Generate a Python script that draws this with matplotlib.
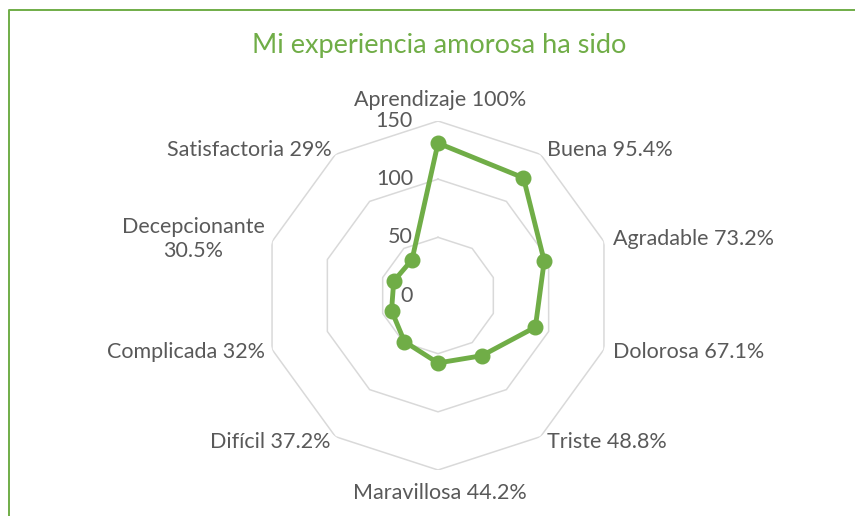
import numpy as np
import matplotlib
matplotlib.use("Agg")
import matplotlib.pyplot as plt
from matplotlib.lines import Line2D

# ---- data ----
categories = ["Aprendizaje 100%", "Buena 95.4%", "Agradable 73.2%", "Dolorosa 67.1%",
              "Triste 48.8%", "Maravillosa 44.2%", "Difícil 37.2%", "Complicada 32%",
              "Decepcionante\n30.5%", "Satisfactoria 29%"]
values = [131, 125, 96, 88, 64, 58, 49, 42, 40, 38]
rticks = [0, 50, 100, 150]
title = "Mi experiencia amorosa ha sido"

GREEN = "#70AD47"
GRAY_TXT = "#595959"
GRID = "#D9D9D9"
FONT = "Lato"
FS = 15.5

W, H, DPI = 855, 516, 100
fig = plt.figure(figsize=(W / DPI, H / DPI), dpi=DPI)

cx, cy, R = 438, 295.5, 174.5  # pixel geometry
ax = fig.add_axes([(cx - R) / W, (H - cy - R) / H, 2 * R / W, 2 * R / H], polar=True)
ax.set_theta_offset(np.pi / 2)
ax.set_theta_direction(-1)
ax.set_ylim(0, rticks[-1])
ax.grid(False)
ax.spines["polar"].set_visible(False)
ax.set_xticks([])
ax.set_yticks([])
ax.patch.set_alpha(0)

n = len(categories)
theta = np.arange(n) * 2 * np.pi / n
theta_c = np.append(theta, theta[0])

# polygon grid
for r in rticks[1:]:
    ax.plot(theta_c, [r] * (n + 1), color=GRID, lw=1.1, zorder=1)

# data
vals_c = values + values[:1]
ax.plot(theta_c, vals_c, color=GREEN, lw=3.5, zorder=3, solid_joinstyle="round")
ax.plot(theta, values, "o", color=GREEN, ms=10.5, zorder=4)

px = 72 / DPI
# label offsets (pixels): dx, dy(up), ha
offs = [(2, 21, "center"), (6, 4, "left"), (8.7, 2.5, "left"), (8.7, -2.3, "left"),
        (6, -5.5, "left"), (1.5, -23, "center"), (-5.4, -5.5, "right"), (-7, -2.3, "right"),
        (-7, 2.6, "right"), (-3.7, 4, "right")]
for t, lab, (dx, dy, ha) in zip(theta, categories, offs):
    ax.annotate(lab, xy=(t, rticks[-1]), xytext=(dx * px, dy * px), textcoords="offset points",
                ha=ha, va="center", multialignment="center", color=GRAY_TXT,
                fontsize=FS, family=FONT, linespacing=1.3, annotation_clip=False)

for r in rticks:
    ax.annotate(str(r), xy=(0, r), xytext=(-25 * px, 0), textcoords="offset points",
                ha="right", va="center", color=GRAY_TXT, fontsize=FS, family=FONT,
                annotation_clip=False)

fig.text(439.5 / W, 1 - 45 / H, title, ha="center", va="center", color=GREEN,
         fontsize=19.5, family=FONT)

# border (left and top)
fig.add_artist(Line2D([8.5 / W, 8.5 / W, 1.0], [0.0, 1 - 9.7 / H, 1 - 9.7 / H],
                      transform=fig.transFigure, color=GREEN, lw=1.4))

fig.savefig("out.png", dpi=DPI)
